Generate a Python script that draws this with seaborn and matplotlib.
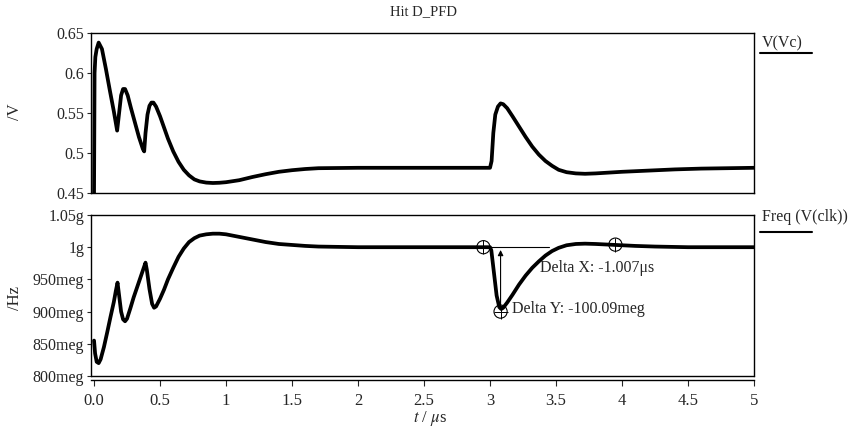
import matplotlib
matplotlib.use("Agg")
import matplotlib.pyplot as plt
import seaborn as sns
import pandas as pd

# ---- data ----
t_vc = [0.0, 0.004, 0.01, 0.02, 0.035, 0.06, 0.09, 0.12, 0.15, 0.175, 0.19, 0.205, 0.22, 0.235,
        0.255, 0.28, 0.31, 0.34, 0.37, 0.38, 0.39, 0.405, 0.42, 0.435, 0.45, 0.47, 0.5, 0.53,
        0.56, 0.6, 0.64, 0.68, 0.72, 0.76, 0.8, 0.85, 0.9, 0.95, 1.0, 1.1, 1.2, 1.3, 1.4,
        1.5, 1.6, 1.7, 2.0, 2.5, 3.0, 3.012, 3.025, 3.04, 3.06, 3.08, 3.1, 3.13, 3.17, 3.22,
        3.27, 3.32, 3.37, 3.42, 3.47, 3.52, 3.58, 3.65, 3.72, 3.8, 3.9, 4.0, 4.2, 4.4, 4.6,
        4.8, 5.0]
v_vc = [0.45, 0.6, 0.62, 0.63, 0.638, 0.63, 0.605, 0.578, 0.552, 0.528, 0.55, 0.572, 0.58, 0.58,
        0.572, 0.556, 0.538, 0.52, 0.505, 0.502, 0.525, 0.548, 0.559, 0.563, 0.563, 0.558, 0.546, 0.532,
        0.518, 0.502, 0.489, 0.479, 0.472, 0.467, 0.4645, 0.463, 0.4625, 0.4628, 0.4635, 0.466, 0.47, 0.4735, 0.4765,
        0.4785, 0.48, 0.481, 0.4815, 0.4815, 0.4815, 0.49, 0.525, 0.548, 0.558, 0.562, 0.561, 0.556, 0.546, 0.533,
        0.52, 0.508, 0.498, 0.49, 0.484, 0.479, 0.476, 0.4745, 0.474, 0.4745, 0.4755, 0.4765, 0.478, 0.4795, 0.4805,
        0.481, 0.4815]

t_fq = [0.0, 0.008, 0.02, 0.035, 0.05, 0.075, 0.1, 0.125, 0.15, 0.165, 0.178, 0.19, 0.205, 0.22,
        0.235, 0.25, 0.275, 0.3, 0.33, 0.36, 0.38, 0.39, 0.4, 0.42, 0.44, 0.455, 0.47, 0.5,
        0.53, 0.56, 0.6, 0.64, 0.68, 0.72, 0.76, 0.8, 0.85, 0.9, 0.95, 1.0, 1.1, 1.2, 1.3,
        1.4, 1.5, 1.6, 1.7, 2.0, 2.5, 3.0, 3.01, 3.03, 3.05, 3.07, 3.085, 3.1, 3.13, 3.17,
        3.22, 3.27, 3.32, 3.37, 3.42, 3.47, 3.52, 3.58, 3.65, 3.72, 3.8, 3.9, 4.0, 4.1,
        4.25, 4.5, 5.0]
f_fq = [855, 835, 822, 820, 826, 845, 868, 892, 915, 932, 945, 925, 900, 888,
        885, 889, 905, 922, 940, 958, 970, 976, 965, 935, 912, 906, 908, 920,
        934, 950, 968, 985, 998, 1008, 1014, 1018, 1020, 1021, 1021, 1020, 1016, 1012, 1008,
        1005, 1003.5, 1002, 1001, 1000, 1000, 1000, 995, 960, 925, 907, 904, 906, 914, 926,
        942, 956, 968, 978, 987, 994, 999, 1003, 1005, 1005.5, 1005, 1004, 1003, 1002,
        1001, 1000, 1000]

cursor_t = [2.95, 3.08, 3.95]
cursor_f = [1000, 900, 1004]
dx_text = "Delta X: -1.007\u03bcs"
dy_text = "Delta Y: -100.09meg"

vc_ticks = [0.45, 0.5, 0.55, 0.6, 0.65]
vc_labels = ["0.45", "0.5", "0.55", "0.6", "0.65"]
fq_ticks = [800, 850, 900, 950, 1000, 1050]
fq_labels = ["800meg", "850meg", "900meg", "950meg", "1g", "1.05g"]
x_ticks = [0, 0.5, 1, 1.5, 2, 2.5, 3, 3.5, 4, 4.5, 5]
x_labels = ["0.0", "0.5", "1", "1.5", "2", "2.5", "3", "3.5", "4", "4.5", "5"]

sns.set_style("white")
plt.rcParams['font.family'] = ['Liberation Serif', 'DejaVu Serif']
plt.rcParams['mathtext.fontset'] = 'stix'

fig = plt.figure(figsize=(8.49, 4.34), dpi=100)
ax1 = fig.add_axes([91/849, 1-193/434, (754-91)/849, (193-33)/434])
ax2 = fig.add_axes([91/849, 1-376/434, (754-91)/849, (376-215)/434])

df1 = pd.DataFrame({"t": t_vc, "v": v_vc})
df2 = pd.DataFrame({"t": t_fq, "f": f_fq})
sns.lineplot(data=df1, x="t", y="v", ax=ax1, color="black", lw=2.7, estimator=None, sort=False,
             solid_joinstyle="round", solid_capstyle="round")
sns.lineplot(data=df2, x="t", y="f", ax=ax2, color="black", lw=2.7, estimator=None, sort=False,
             solid_joinstyle="round", solid_capstyle="round")

for ax in (ax1, ax2):
    ax.set_xlim(-0.023, 5)
    ax.set_xlabel("")
    ax.set_ylabel("")
    for s in ax.spines.values():
        s.set_color("black")
        s.set_linewidth(1.0)
    ax.tick_params(axis="y", direction="out", length=3, width=0.8, labelsize=11.5, pad=2, left=True)

ax1.set_ylim(0.45, 0.65)
ax1.set_yticks(vc_ticks)
ax1.set_yticklabels(vc_labels)
ax1.set_xticks([])

ax2.set_ylim(800, 1050)
ax2.set_yticks(fq_ticks)
ax2.set_yticklabels(fq_labels)
ax2.set_xticks(x_ticks)
ax2.set_xticklabels(x_labels)
ax2.spines["bottom"].set_position(("outward", 3))
ax2.plot([0, 1], [0, 0], transform=ax2.transAxes, color="black", lw=1.0, clip_on=False)
ax2.tick_params(axis="x", direction="out", length=4, width=0.8, labelsize=12, pad=5, bottom=True)

# cursors
ax2.scatter(cursor_t, cursor_f, s=90, facecolors="none", edgecolors="black", linewidths=0.8, zorder=5)
ax2.scatter(cursor_t, cursor_f, s=90, marker="+", color="black", linewidths=0.7, zorder=5)
ax2.plot([cursor_t[0], 3.45], [cursor_f[0], cursor_f[0]], color="black", lw=0.8)
ax2.annotate("", xy=(cursor_t[1], cursor_f[0]), xytext=(cursor_t[1], cursor_f[1] + 5),
             arrowprops=dict(arrowstyle="-|>", color="black", lw=0.8, mutation_scale=8))
ax2.text(3.38, 968, dx_text, fontsize=11.5, va="center", ha="left")
ax2.text(3.17, 904, dy_text, fontsize=11.5, va="center", ha="left")

# titles / labels
fig.text(423/849, 1-12/434, "Hit D_PFD", ha="center", va="center", fontsize=10.5)
fig.text(15/849, 1-112/434, "/V", rotation=90, ha="center", va="center", fontsize=12)
fig.text(15/849, 1-298/434, "/Hz", rotation=90, ha="center", va="center", fontsize=12)
fig.text(430/849, 1-418/434, r"$t$ / $\mu$s", ha="center", va="center", fontsize=12)

# legend-like labels
fig.text(762/849, 1-43/434, "V(Vc)", ha="left", va="center", fontsize=11.5)
fig.add_artist(plt.Line2D([760/849, 812/849], [1-53/434, 1-53/434], color="black", lw=1.5))
fig.text(762/849, 1-217/434, "Freq (V(clk))", ha="left", va="center", fontsize=11.5)
fig.add_artist(plt.Line2D([760/849, 812/849], [1-232/434, 1-232/434], color="black", lw=1.5))

fig.savefig("out.png", dpi=100)
